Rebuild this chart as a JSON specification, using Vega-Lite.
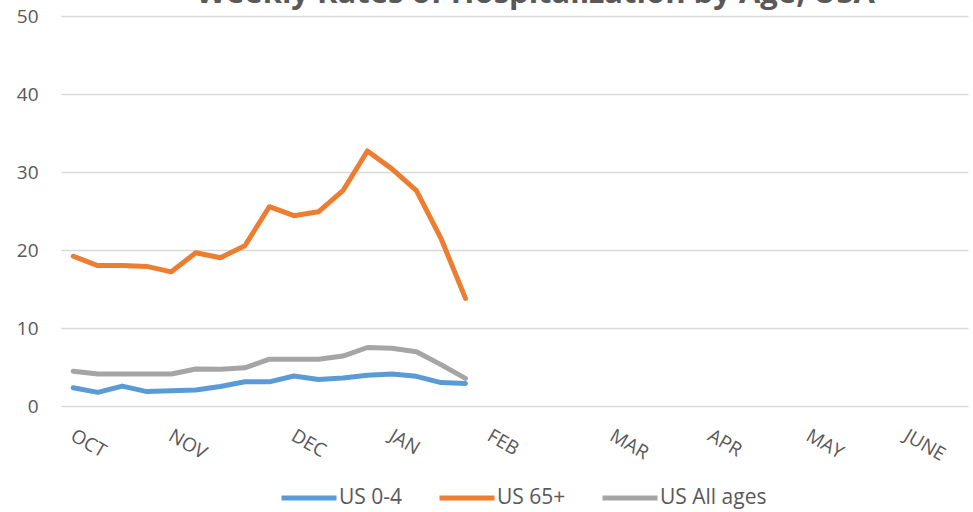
{
  "$schema": "https://vega.github.io/schema/vega-lite/v6.json",
  "width": 907,
  "height": 390,
  "autosize": "none",
  "padding": {"left": 61, "top": 16, "right": 5, "bottom": 106},
  "background": "white",
  "config": {"view": {"stroke": null}},
  "title": {
    "text": "Weekly Rates of Hospitalization by Age, USA",
    "font": "Open Sans",
    "fontSize": 31,
    "fontWeight": "bold",
    "color": "#595959",
    "anchor": "middle",
    "frame": "group",
    "dx": 21,
    "dy": 27,
    "baseline": "alphabetic",
    "offset": 0
  },
  "data": {
    "values": [
      {"week": 0, "series": "US 0-4", "rate": 2.35},
      {"week": 1, "series": "US 0-4", "rate": 1.75},
      {"week": 2, "series": "US 0-4", "rate": 2.55},
      {"week": 3, "series": "US 0-4", "rate": 1.85},
      {"week": 4, "series": "US 0-4", "rate": 1.95},
      {"week": 5, "series": "US 0-4", "rate": 2.05},
      {"week": 6, "series": "US 0-4", "rate": 2.5},
      {"week": 7, "series": "US 0-4", "rate": 3.1},
      {"week": 8, "series": "US 0-4", "rate": 3.1},
      {"week": 9, "series": "US 0-4", "rate": 3.85},
      {"week": 10, "series": "US 0-4", "rate": 3.4},
      {"week": 11, "series": "US 0-4", "rate": 3.6},
      {"week": 12, "series": "US 0-4", "rate": 3.95},
      {"week": 13, "series": "US 0-4", "rate": 4.1},
      {"week": 14, "series": "US 0-4", "rate": 3.8},
      {"week": 15, "series": "US 0-4", "rate": 3.0},
      {"week": 16, "series": "US 0-4", "rate": 2.9},
      {"week": 0, "series": "US 65+", "rate": 19.2},
      {"week": 1, "series": "US 65+", "rate": 18.0},
      {"week": 2, "series": "US 65+", "rate": 18.0},
      {"week": 3, "series": "US 65+", "rate": 17.9},
      {"week": 4, "series": "US 65+", "rate": 17.2},
      {"week": 5, "series": "US 65+", "rate": 19.65},
      {"week": 6, "series": "US 65+", "rate": 19.0},
      {"week": 7, "series": "US 65+", "rate": 20.55},
      {"week": 8, "series": "US 65+", "rate": 25.55},
      {"week": 9, "series": "US 65+", "rate": 24.4},
      {"week": 10, "series": "US 65+", "rate": 24.9},
      {"week": 11, "series": "US 65+", "rate": 27.6},
      {"week": 12, "series": "US 65+", "rate": 32.7},
      {"week": 13, "series": "US 65+", "rate": 30.4},
      {"week": 14, "series": "US 65+", "rate": 27.6},
      {"week": 15, "series": "US 65+", "rate": 21.5},
      {"week": 16, "series": "US 65+", "rate": 13.8},
      {"week": 0, "series": "US All ages", "rate": 4.45},
      {"week": 1, "series": "US All ages", "rate": 4.1},
      {"week": 2, "series": "US All ages", "rate": 4.1},
      {"week": 3, "series": "US All ages", "rate": 4.1},
      {"week": 4, "series": "US All ages", "rate": 4.1},
      {"week": 5, "series": "US All ages", "rate": 4.75},
      {"week": 6, "series": "US All ages", "rate": 4.7},
      {"week": 7, "series": "US All ages", "rate": 4.9},
      {"week": 8, "series": "US All ages", "rate": 6.0},
      {"week": 9, "series": "US All ages", "rate": 6.0},
      {"week": 10, "series": "US All ages", "rate": 6.0},
      {"week": 11, "series": "US All ages", "rate": 6.4},
      {"week": 12, "series": "US All ages", "rate": 7.5},
      {"week": 13, "series": "US All ages", "rate": 7.4},
      {"week": 14, "series": "US All ages", "rate": 6.95},
      {"week": 15, "series": "US All ages", "rate": 5.3},
      {"week": 16, "series": "US All ages", "rate": 3.55}
    ]
  },
  "mark": {"type": "line", "strokeWidth": 5, "strokeCap": "round", "strokeJoin": "round"},
  "encoding": {
    "x": {
      "field": "week",
      "type": "quantitative",
      "scale": {"domain": [-0.5, 36.5], "nice": false, "zero": false},
      "axis": {
        "values": [0, 4, 9, 13, 17, 22, 26, 30, 34],
        "labelExpr": "datum.value == 0 ? 'OCT' : datum.value == 4 ? 'NOV' : datum.value == 9 ? 'DEC' : datum.value == 13 ? 'JAN' : datum.value == 17 ? 'FEB' : datum.value == 22 ? 'MAR' : datum.value == 26 ? 'APR' : datum.value == 30 ? 'MAY' : 'JUNE'",
        "labelAngle": 30,
        "labelAlign": "left",
        "labelBaseline": "top",
        "labelPadding": 20,
        "labelOffset": 3,
        "labelFont": "Open Sans",
        "labelFontSize": 19,
        "labelColor": "#595959",
        "labelOverlap": false,
        "labelFlush": false,
        "grid": false,
        "ticks": false,
        "domain": false,
        "title": null
      }
    },
    "y": {
      "field": "rate",
      "type": "quantitative",
      "scale": {"domain": [0, 50], "nice": false},
      "axis": {
        "values": [0, 10, 20, 30, 40, 50],
        "grid": true,
        "gridColor": "#d9d9d9",
        "gridWidth": 1.5,
        "ticks": false,
        "domain": false,
        "title": null,
        "labelPadding": 23,
        "labelFont": "Open Sans",
        "labelFontSize": 19,
        "labelColor": "#595959"
      }
    },
    "color": {
      "field": "series",
      "type": "nominal",
      "scale": {"domain": ["US 0-4", "US 65+", "US All ages"], "range": ["#5b9bd5", "#ed7d31", "#a5a5a5"]},
      "legend": {
        "title": null,
        "orient": "none",
        "direction": "horizontal",
        "legendX": 218,
        "legendY": 452,
        "padding": 0,
        "symbolType": "stroke",
        "symbolSize": 3025,
        "symbolStrokeWidth": 5,
        "labelFont": "Open Sans",
        "labelFontSize": 21,
        "labelColor": "#595959",
        "labelOffset": 0,
        "columnPadding": 26
      }
    }
  }
}
